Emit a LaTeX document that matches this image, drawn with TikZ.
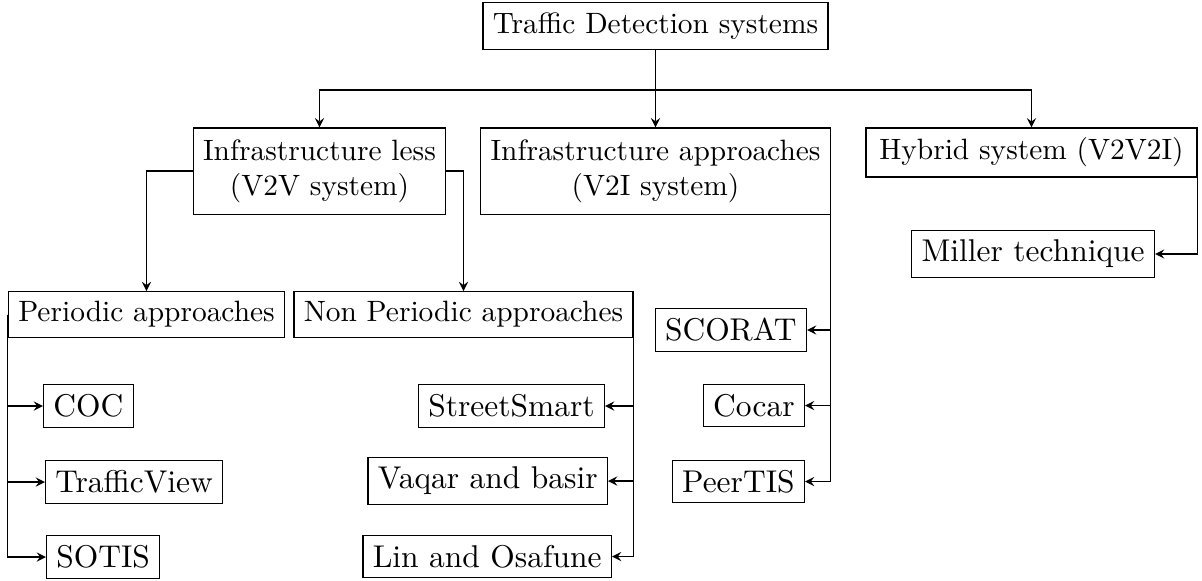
\documentclass[tikz,border=0pt]{standalone}
\tikzstyle{sysnode} = [draw=black,align=center]
\tikzstyle{leafnode} = [draw=black,font=\fontsize{10.7}{13}\selectfont]
\tikzstyle{link} = [-stealth]

\begin{document}
\begin{tikzpicture}[x=0.340pt,y=-0.340pt]
  \useasboundingbox (0,0) rectangle (1202,581);
  % top levels
  \node[sysnode] (tds) at (655.5,26) {Traffic Detection systems};
  \node[sysnode,minimum height=29.3pt] (infless) at (319.5,171) {Infrastructure less\\(V2V system)};
  \node[sysnode,minimum height=29.3pt] (infapp) at (655.5,171) {Infrastructure approaches\\(V2I system)};
  \node[sysnode,minimum width=112.5pt] (hybrid) at (1031.5,152.5) {Hybrid system (V2V2I)};
  \node[sysnode] (periodic) at (146.5,314.5) {Periodic approaches};
  \node[sysnode] (nonper) at (463.5,314.5) {Non Periodic approaches};
  % leaves
  \node[leafnode,anchor=east] (miller) at (1155,254) {Miller technique};
  \node[leafnode,anchor=east] (scorat) at (807,330) {SCORAT};
  \node[leafnode,anchor=east] (cocar) at (805,405.5) {Cocar};
  \node[leafnode,anchor=east] (peertis) at (805,481.5) {PeerTIS};
  \node[leafnode,anchor=west] (coc) at (43,406) {COC};
  \node[leafnode,anchor=west] (trafficview) at (45,482) {TrafficView};
  \node[leafnode,anchor=west] (sotis) at (46,557) {SOTIS};
  \node[leafnode,anchor=east] (streetsmart) at (605,406) {StreetSmart};
  \node[leafnode,anchor=east] (vaqar) at (608,481) {Vaqar and basir};
  \node[leafnode,anchor=east] (lin) at (612,556.5) {Lin and Osafune};

  % connectors
  \coordinate (fork) at (655.5,90);
  \draw (tds.south) -- (fork);
  \draw[link] (fork) -| (infless.north);
  \draw[link] (fork) -- (infapp.north);
  \draw[link] (fork) -| (hybrid.north);
  \draw[link] (infless.west) -| (periodic.north);
  \draw[link] (infless.east) -| (nonper.north);
  \draw[link] (hybrid.east) |- (miller.east);
  \foreach \n in {scorat,cocar,peertis}
    \draw[link] (infapp.east) |- (\n.east);
  \foreach \n in {coc,trafficview,sotis}
    \draw[link] (periodic.west) |- (\n.west);
  \foreach \n in {streetsmart,vaqar,lin}
    \draw[link] (nonper.east) |- (\n.east);
\end{tikzpicture}
\end{document}
